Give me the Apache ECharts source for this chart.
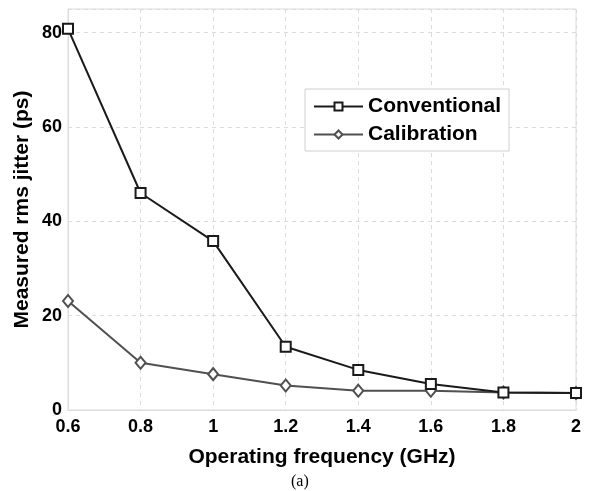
<!DOCTYPE html>
<html><head><meta charset="utf-8">
<script src="https://cdn.jsdelivr.net/npm/echarts@6/dist/echarts.min.js"></script>
<style>html,body{margin:0;padding:0;background:#fff}#c{width:589px;height:491px}</style>
</head><body><div id="c"></div>
<script>
var categories = ['0.6','0.8','1','1.2','1.4','1.6','1.8','2'];
var conventional = [80.8, 46.0, 35.8, 13.4, 8.5, 5.5, 3.7, 3.6];
var calibration = [23.1, 10.0, 7.6, 5.2, 4.1, 4.1, 3.7, 3.6];
var yTicks = [0, 20, 40, 60, 80];

var chart = echarts.init(document.getElementById('c'));
var font = 'Liberation Sans, Arial, Helvetica, sans-serif';
chart.setOption({
  animation: false,
  backgroundColor: '#fff',
  grid: {left: 68, right: 13, top: 9, bottom: 81, show: true, borderColor: '#dcdcdc', borderWidth: 1},
  legend: {
    orient: 'vertical', left: 305, top: 89,
    padding: [7, 8, 6, 8], itemGap: 7, itemWidth: 49, itemHeight: 10,
    borderColor: '#d0d0d0', borderWidth: 1, backgroundColor: '#fff',
    textStyle: {fontFamily: font, fontWeight: 'bold', fontSize: 21, color: '#000'},
    data: ['Conventional', 'Calibration']
  },
  xAxis: {
    type: 'category', data: categories, boundaryGap: false,
    name: 'Operating frequency (GHz)', nameLocation: 'middle', nameGap: 37,
    nameTextStyle: {fontFamily: font, fontWeight: 'bold', fontSize: 21, color: '#000'},
    axisLine: {lineStyle: {color: '#dcdcdc'}},
    axisTick: {show: false},
    axisLabel: {fontFamily: font, fontWeight: 'bold', fontSize: 18, color: '#000', margin: 8},
    splitLine: {show: true, lineStyle: {color: '#dcdcdc', type: [4, 4]}}
  },
  yAxis: {
    type: 'value', min: 0, max: 85, interval: 20,
    name: 'Measured rms jitter (ps)', nameLocation: 'middle', nameGap: 35, nameMoveOverlap: false,
    nameTextStyle: {fontFamily: font, fontWeight: 'bold', fontSize: 21, color: '#000'},
    axisLine: {show: true, lineStyle: {color: '#dcdcdc'}},
    axisTick: {show: false},
    axisLabel: {fontFamily: font, fontWeight: 'bold', fontSize: 18, color: '#000', margin: 6, showMaxLabel: false,
      formatter: function (v) { return yTicks.indexOf(v) >= 0 ? String(v) : ''; }},
    splitLine: {show: true, lineStyle: {color: '#dcdcdc', type: [4, 4]}}
  },
  series: [
    {name: 'Conventional', type: 'line', data: conventional, symbol: 'emptyRect', symbolSize: 10,
      color: '#1a1a1a', lineStyle: {width: 2, color: '#1a1a1a'}, itemStyle: {color: '#1a1a1a', borderWidth: 2}, z: 3},
    {name: 'Calibration', type: 'line', data: calibration, symbol: 'emptyDiamond', symbolSize: [10, 12],
      color: '#505050', lineStyle: {width: 2, color: '#505050'}, itemStyle: {color: '#505050', borderWidth: 2}, z: 2}
  ],
  graphic: [{type: 'text', left: 291, top: 474, style: {text: '(a)', font: '16px "Liberation Serif", serif', fill: '#000'}}]
});
</script></body></html>
